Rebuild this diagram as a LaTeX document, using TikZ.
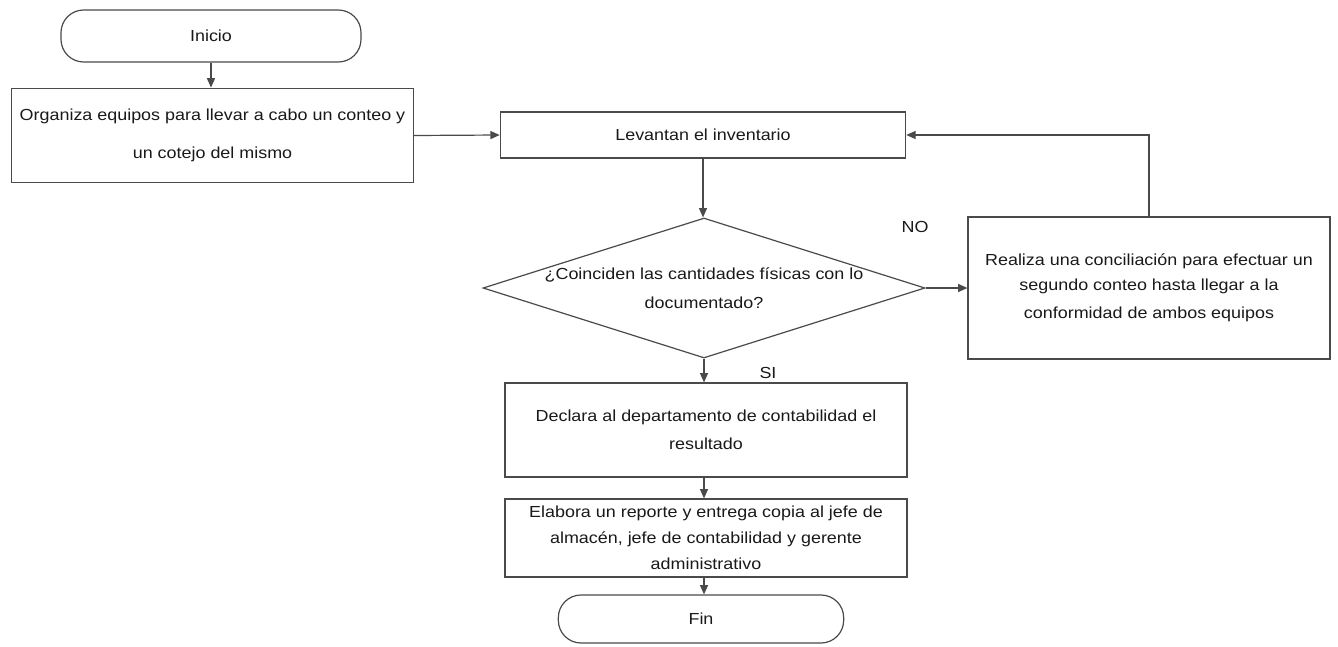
\documentclass[tikz,border=0pt]{standalone}
\usepackage{fontspec}
\setmainfont[FakeStretch=1.12]{Liberation Sans}
\usetikzlibrary{shapes.geometric,arrows.meta}
\definecolor{linegray}{HTML}{4A4A4A}
\begin{document}
\begin{tikzpicture}[x=0.75pt,y=0.75pt,
  every node/.style={font=\fontsize{12pt}{19pt}\selectfont, text=black!90, inner sep=0pt},
  proc/.style={draw=linegray, line width=0.9pt, rectangle, align=center},
  term/.style={draw=linegray, line width=0.9pt, rectangle, rounded corners=17pt, align=center},
  dec/.style={draw=linegray, line width=0.9pt, diamond, minimum width=331.5pt, minimum height=105pt},
  flow/.style={draw=linegray, line width=0.9pt, -{Triangle[length=7pt,width=6pt]}}]
\useasboundingbox (0,0) rectangle (1338,-646);
\node [term, minimum width=225pt, minimum height=39pt] (ini) at (211,-36) {Inicio};
\node [proc, minimum width=301pt, minimum height=71pt] (org) at (212.5,-135.5) {Organiza equipos para llevar a cabo un conteo y\\[10pt]un cotejo del mismo};
\node [proc, minimum width=304pt, minimum height=34.5pt] (lev) at (703,-135) {Levantan el inventario};
\node [dec] (q) at (704,-288) {};
\node [align=center] (qtxt) at (q.center) {¿Coinciden las cantidades físicas con lo\\[3pt]documentado?};
\node [proc, minimum width=271.5pt, minimum height=106.5pt] (rea) at (1149,-288) {Realiza una conciliación para efectuar un\\segundo conteo hasta llegar a la\\[2pt]conformidad de ambos equipos};
\node [proc, minimum width=301.5pt, minimum height=70.5pt] (decl) at (706,-430) {Declara al departamento de contabilidad el\\[2pt]resultado};
\node [proc, minimum width=301.5pt, minimum height=58.5pt] (ela) at (706,-538) {Elabora un reporte y entrega copia al jefe de\\almacén, jefe de contabilidad y gerente\\[1pt]administrativo};
\node [term, minimum width=214pt, minimum height=36pt] (fin) at (701,-619) {Fin};
\node (no) at (915,-227) {NO};
\node (si) at (768,-373) {SI};
\draw [flow] (ini) -- (ini |- org.north);
\draw [flow] (org.east) -- (lev.west);
\draw [flow] (lev.south) -- (lev.south |- q.north);
\draw [flow] (q.east) -- (rea.west);
\draw [flow] (rea.north) |- (lev.east);
\draw [flow] (q.south) -- (q.south |- decl.north);
\draw [flow] (decl.south -| q.south) -- (q.south |- ela.north);
\draw [flow] (ela.south -| q.south) -- (q.south |- fin.north);
\end{tikzpicture}
\end{document}
